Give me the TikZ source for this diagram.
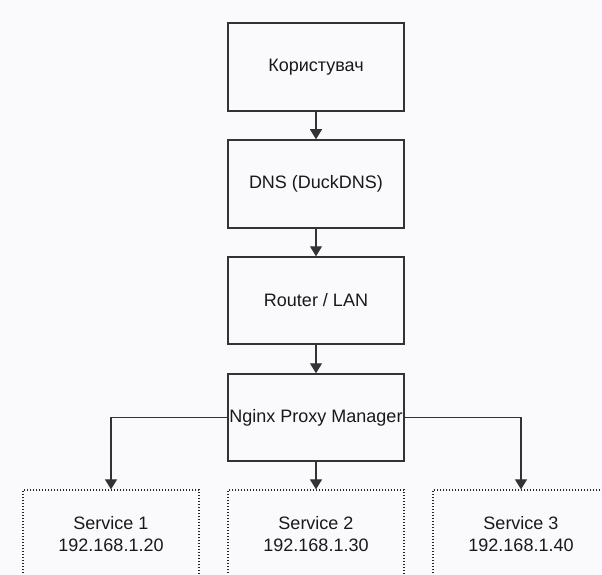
\documentclass[tikz,border=0pt]{standalone}
\usepackage{fontspec}
\setmainfont{Liberation Sans}
\usetikzlibrary{arrows.meta}
\definecolor{bgc}{HTML}{FAFAFC}
\definecolor{edgec}{HTML}{333333}
\begin{document}
\begin{tikzpicture}[x=1pt,y=-1pt,
  box/.style={draw=edgec, line width=1.5pt, fill=bgc, minimum width=176pt, minimum height=88pt, inner sep=0pt, font=\fontsize{18}{22}\selectfont, align=center, text=black!90},
  svc/.style={draw=black!85, line width=1.3pt, dash pattern=on 1.2pt off 1.8pt, fill=bgc, minimum width=176pt, minimum height=88pt, inner sep=0pt, font=\fontsize{18}{22}\selectfont, align=center, text=black!90},
  conn/.style={draw=edgec, line width=1.2pt, -{Triangle[length=10pt,width=12pt]}}]
\fill[bgc] (0,0) rectangle (602,575);
\useasboundingbox (0,0) rectangle (602,575);
\clip (0,0) rectangle (602,575);
\node[box] (b1) at (316,67) {Користувач};
\node[box] (b2) at (316,184) {DNS (DuckDNS)};
\node[box, minimum height=87pt] (b3) at (316,300.5) {Router / LAN};
\node[box, minimum height=87pt] (b4) at (316,417.5) {Nginx Proxy Manager};
\node[svc] (s1) at (111,534) {Service 1\\192.168.1.20};
\node[svc] (s2) at (316,534) {Service 2\\192.168.1.30};
\node[svc] (s3) at (521,534) {Service 3\\192.168.1.40};
\draw[conn] (b1) -- (b2);
\draw[conn] (b2) -- (b3);
\draw[conn] (b3) -- (b4);
\draw[conn] (b4.west) -| (s1.north);
\draw[conn] (b4) -- (s2);
\draw[conn] (b4.east) -| (s3.north);
\end{tikzpicture}
\end{document}
